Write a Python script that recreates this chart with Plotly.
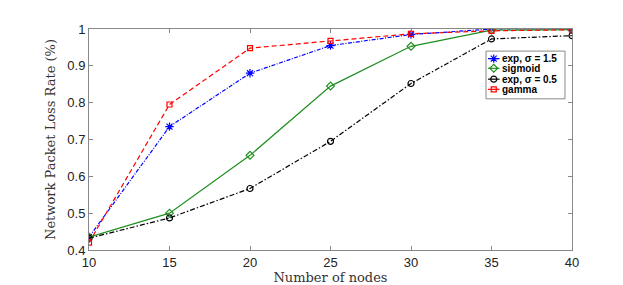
import plotly.graph_objects as go

nodes = [10, 15, 20, 25, 30, 35, 40]
exp15 = [0.435, 0.735, 0.880, 0.955, 0.985, 1.000, 1.000]
sigmoid = [0.435, 0.500, 0.657, 0.845, 0.953, 0.997, 0.998]
exp05 = [0.432, 0.487, 0.567, 0.695, 0.852, 0.973, 0.982]
gamma = [0.420, 0.795, 0.948, 0.968, 0.987, 0.995, 0.998]

series_names = ["exp, σ = 1.5", "sigmoid", "exp, σ = 0.5", "gamma"]
yticks = [0.4, 0.5, 0.6, 0.7, 0.8, 0.9, 1.0]
ytick_text = ["0.4", "0.5", "0.6", "0.7", "0.8", "0.9", "1"]

GREEN = "#1f8f1f"
styles = [
    dict(color="blue", dash="4px,1.5px,1px,1.5px", symbol="asterisk-open", size=7),
    dict(color=GREEN, dash="solid", symbol="diamond-open", size=6),
    dict(color="black", dash="5px,2px,1.5px,2px", symbol="circle-open", size=6),
    dict(color="red", dash="5px,3px", symbol="square-open", size=5),
]
datas = [exp15, sigmoid, exp05, gamma]

fig = go.Figure()
for name, ys, st in zip(series_names, datas, styles):
    fig.add_trace(go.Scatter(
        x=nodes, y=ys, name=name, mode="lines+markers", showlegend=False,
        line=dict(color=st["color"], width=1.2, dash=st["dash"]),
        marker=dict(symbol=st["symbol"], size=st["size"], color=st["color"],
                    line=dict(width=1.2, color=st["color"]))))

# manual compact legend (paper coordinates)
lx0, lx1, ly0, ly1 = 0.822, 0.9855, 0.684, 0.900
fig.add_shape(type="rect", xref="paper", yref="paper", x0=lx0, x1=lx1, y0=ly0, y1=ly1,
              line=dict(color="#888888", width=1), fillcolor="white", layer="below")
row_y = [0.866, 0.822, 0.773, 0.727]
seg_x0, seg_x1 = 0.826, 0.850
for name, st, ry in zip(series_names, styles, row_y):
    fig.add_shape(type="line", xref="paper", yref="paper", x0=seg_x0, x1=seg_x1, y0=ry, y1=ry,
                  line=dict(color=st["color"], width=1.2), layer="above")
    fig.add_trace(go.Scatter(
        x=[(seg_x0 + seg_x1) / 2], y=[ry], xaxis="x2", yaxis="y2", mode="markers",
        showlegend=False, hoverinfo="skip", cliponaxis=False,
        marker=dict(symbol=st["symbol"], size=st["size"], color=st["color"],
                    line=dict(width=1.2, color=st["color"]))))
    fig.add_annotation(xref="paper", yref="paper", x=0.851, y=ry, text="<b>%s</b>" % name,
                       showarrow=False, xanchor="left", yanchor="middle",
                       font=dict(family="Liberation Sans, Arial, sans-serif", size=10, color="black"))

axis_common = dict(showgrid=False, zeroline=False, showline=True, linecolor="#888888", linewidth=1,
                   mirror="ticks", ticks="inside", ticklen=4, tickcolor="#888888",
                   tickfont=dict(family="Liberation Sans, Arial, sans-serif", size=13, color="#222222"))

fig.update_layout(
    width=623, height=285,
    margin=dict(l=81, r=59, t=21, b=33),
    plot_bgcolor="white", paper_bgcolor="white",
    showlegend=False,
    xaxis=dict(range=[10, 40], tickvals=nodes, **axis_common,
               title=dict(text="Number of nodes", standoff=2,
                          font=dict(family="DejaVu Serif, Liberation Serif, serif", size=13, color="#333333"))),
    yaxis=dict(range=[0.4, 1.0], tickvals=yticks, ticktext=ytick_text, **axis_common,
               title=dict(text="Network Packet Loss Rate (%)", standoff=8,
                          font=dict(family="DejaVu Serif, Liberation Serif, serif", size=13, color="#333333"))),
    xaxis2=dict(range=[0, 1], domain=[0, 1], overlaying="x", visible=False, fixedrange=True),
    yaxis2=dict(range=[0, 1], domain=[0, 1], overlaying="y", visible=False, fixedrange=True),
)

fig.write_html("out.html")
